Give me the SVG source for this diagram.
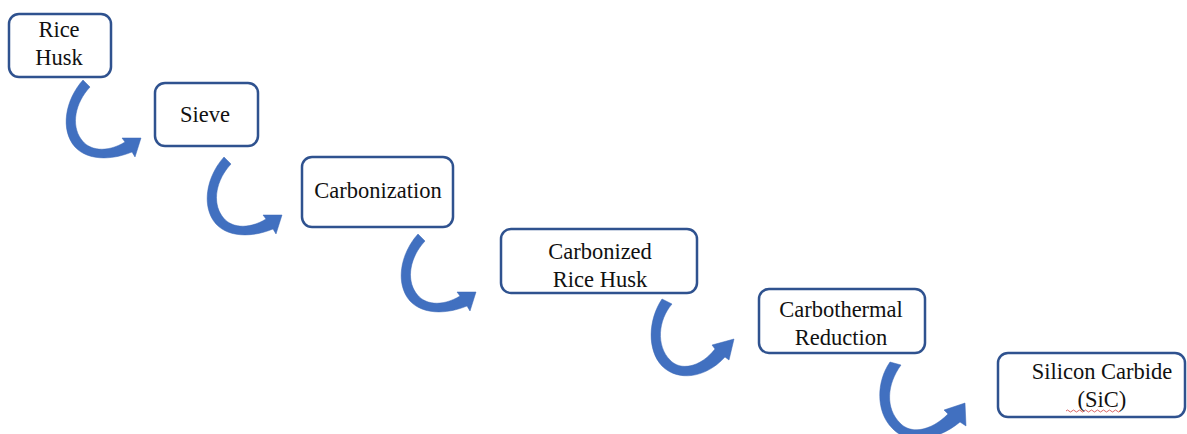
<svg xmlns="http://www.w3.org/2000/svg" width="1187" height="434" viewBox="0 0 1187 434">
<style>
.box{fill:#ffffff;stroke:#2f528f;stroke-width:2.5}
.lbl{font-size:22.5px;fill:#111;text-anchor:middle}
.arr{fill:#4170c0;stroke:#3a66b4;stroke-width:0.5}
</style>
<defs>
<path id="arrA" d="M28,5 C10,25 5,55 20,72 C32,85 55,86 77,77 L80,82 L86,63 L67,63 L70,67 C52,78 34,76 26,64 C16,50 20,28 35,12 Z"/>
</defs>
<rect width="1187" height="434" fill="#ffffff"/>
<g id="connectors">
<use href="#arrA" class="arr" transform="translate(55,75)"/>
<use href="#arrA" class="arr" transform="translate(196,152)"/>
<use href="#arrA" class="arr" transform="translate(390,229)"/>
<path class="arr" transform="translate(640,290)" d="M22,9 C8,30 7,60 22,76 C38,92 66,88 85,67 L89,70 L94,49 L72,55 L75,59 C60,78 40,81 30,70 C16,56 18,30 32,14 Z"/>
<path class="arr" transform="translate(870,350)" d="M20,12 C6,32 6,62 22,78 C36,94 66,92 90,72 L96,76 L95,53 L74,60 L78,64 C60,82 40,84 30,73 C15,58 17,34 31,15 Z"/>
</g>
<g font-family="'Liberation Serif', 'Times New Roman', 'DejaVu Serif', serif">
<g id="rice-husk">
<rect class="box" x="9" y="14" width="102" height="63" rx="10"/>
<text class="lbl" x="59" y="37">Rice</text>
<text class="lbl" x="59" y="65">Husk</text>
</g>
<g id="sieve">
<rect class="box" x="155" y="83" width="103" height="63" rx="10"/>
<text class="lbl" x="205" y="122">Sieve</text>
</g>
<g id="carbonization">
<rect class="box" x="302" y="157" width="151" height="70" rx="10"/>
<text class="lbl" x="378" y="198">Carbonization</text>
</g>
<g id="carbonized-rice-husk">
<rect class="box" x="501" y="229" width="196" height="64" rx="10"/>
<text class="lbl" x="600" y="259">Carbonized</text>
<text class="lbl" x="600" y="287">Rice Husk</text>
</g>
<g id="carbothermal-reduction">
<rect class="box" x="759" y="289" width="166" height="64" rx="10"/>
<text class="lbl" x="841" y="317">Carbothermal</text>
<text class="lbl" x="841" y="345">Reduction</text>
</g>
<g id="silicon-carbide">
<rect class="box" x="998" y="353" width="187" height="64" rx="10"/>
<text class="lbl" x="1102" y="379">Silicon Carbide</text>
<text class="lbl" x="1102" y="407">(SiC)</text>
<path d="M1066,411 q1.5,-2 3,0 t3,0 t3,0 t3,0 t3,0 t3,0 t3,0 t3,0 t3,0 t3,0 t3,0 t3,0 t3,0 t3,0 t3,0 t3,0 t3,0 t3,0" fill="none" stroke="#d04040" stroke-width="0.8"/>
</g>
</g>
</svg>
